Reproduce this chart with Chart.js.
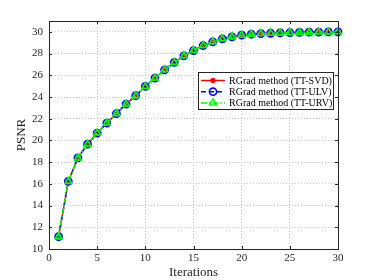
<!DOCTYPE html>
<html lang="en">
<head>
    <meta charset="UTF-8">
    <title>PSNR vs Iterations</title>
    <style>
        body {
            margin: 0;
            background: white;
        }
        .wrap {
            width: 373px;
            height: 280px;
        }
    </style>
    <script src="https://cdn.jsdelivr.net/npm/chart.js"></script>
</head>
<body>
    <div class="wrap">
        <canvas id="psnrChart" width="373" height="280"></canvas>
    </div>
    <script>
        const iterations = [1, 2, 3, 4, 5, 6, 7, 8, 9, 10, 11, 12, 13, 14, 15,
            16, 17, 18, 19, 20, 21, 22, 23, 24, 25, 26, 27, 28, 29, 30];
        const psnrSvd = [11.13, 16.22, 18.39, 19.65, 20.68, 21.6, 22.47, 23.35, 24.12, 24.97,
            25.74, 26.5, 27.18, 27.79, 28.28, 28.74, 29.08, 29.36, 29.54, 29.69,
            29.78, 29.84, 29.87, 29.9, 29.93, 29.95, 29.97, 29.98, 29.99, 30.0];
        const psnrUlv = [11.13, 16.22, 18.39, 19.65, 20.68, 21.6, 22.47, 23.35, 24.12, 24.97,
            25.74, 26.5, 27.18, 27.79, 28.28, 28.74, 29.08, 29.36, 29.54, 29.69,
            29.78, 29.84, 29.87, 29.9, 29.93, 29.95, 29.97, 29.98, 29.99, 30.0];
        const psnrUrv = [11.13, 16.22, 18.39, 19.65, 20.68, 21.6, 22.47, 23.35, 24.12, 24.97,
            25.74, 26.5, 27.18, 27.79, 28.28, 28.74, 29.08, 29.36, 29.54, 29.69,
            29.78, 29.84, 29.87, 29.9, 29.93, 29.95, 29.97, 29.98, 29.99, 30.0];
        const seriesNames = ['RGrad method (TT-SVD)', 'RGrad method (TT-ULV)', 'RGrad method (TT-URV)'];
        const xTicks = [0, 5, 10, 15, 20, 25, 30];
        const yTicks = [10, 12, 14, 16, 18, 20, 22, 24, 26, 28, 30];

        const serif = "'Liberation Serif', 'Times New Roman', serif";
        const toPoints = ys => iterations.map((x, i) => ({ x: x, y: ys[i] }));

        // box round the axes with inward ticks, like matlab
        const axesBox = {
            id: 'axesBox',
            afterDatasetsDraw(chart) {
                const { ctx, chartArea: a, scales } = chart;
                ctx.save();
                ctx.strokeStyle = '#262626';
                ctx.lineWidth = 1;
                ctx.beginPath();
                xTicks.forEach(v => {
                    const px = Math.round(scales.x.getPixelForValue(v)) + 0.5;
                    ctx.moveTo(px, a.bottom); ctx.lineTo(px, a.bottom - 3);
                    ctx.moveTo(px, a.top); ctx.lineTo(px, a.top + 3);
                });
                yTicks.forEach(v => {
                    const py = Math.round(scales.y.getPixelForValue(v)) + 0.5;
                    ctx.moveTo(a.left, py); ctx.lineTo(a.left + 3, py);
                    ctx.moveTo(a.right, py); ctx.lineTo(a.right - 3, py);
                });
                ctx.stroke();
                ctx.strokeRect(Math.round(a.left) + 0.5, Math.round(a.top) + 0.5,
                    Math.round(a.right - a.left), Math.round(a.bottom - a.top));
                ctx.restore();
            }
        };

        // legend box drawn inside the axes (line sample + marker + label)
        const boxLegend = {
            id: 'boxLegend',
            afterDraw(chart) {
                const ctx = chart.ctx;
                const x0 = 198, y0 = 72, w = 135, h = 37, rowH = 11.2;
                ctx.save();
                ctx.fillStyle = 'white';
                ctx.fillRect(x0, y0, w, h);
                ctx.strokeStyle = '#262626';
                ctx.lineWidth = 1;
                ctx.strokeRect(x0 + 0.5, y0 + 0.5, w, h);
                seriesNames.forEach((name, i) => {
                    const ds = chart.data.datasets[i];
                    const cy = y0 + 8.5 + i * rowH;
                    ctx.strokeStyle = ds.borderColor;
                    ctx.lineWidth = ds.borderWidth;
                    ctx.setLineDash(ds.borderDash || []);
                    ctx.beginPath();
                    ctx.moveTo(x0 + 3, cy);
                    ctx.lineTo(x0 + 27, cy);
                    ctx.stroke();
                    ctx.setLineDash([]);
                    ctx.fillStyle = ds.pointBackgroundColor;
                    ctx.strokeStyle = ds.pointBorderColor;
                    ctx.lineWidth = ds.pointBorderWidth;
                    Chart.helpers.drawPoint(ctx, {
                        pointStyle: ds.pointStyle,
                        radius: ds.pointRadius,
                        borderWidth: ds.pointBorderWidth,
                        rotation: 0
                    }, x0 + 15, cy);
                    ctx.fillStyle = '#000';
                    ctx.font = '10px ' + serif;
                    ctx.textBaseline = 'middle';
                    ctx.fillText(name, x0 + 31, cy + 0.5);
                });
                ctx.restore();
            }
        };

        new Chart(document.getElementById('psnrChart'), {
            type: 'line',
            data: {
                datasets: [
                    {
                        label: seriesNames[0],
                        data: toPoints(psnrSvd),
                        order: 2,
                        borderColor: '#ff0000',
                        backgroundColor: '#ff0000',
                        borderWidth: 1.5,
                        pointStyle: 'circle',
                        pointRadius: 2.3,
                        pointBorderWidth: 1,
                        pointBackgroundColor: '#ff0000',
                        pointBorderColor: '#ff0000'
                    },
                    {
                        label: seriesNames[1],
                        data: toPoints(psnrUlv),
                        order: 1,
                        borderColor: '#0000ff',
                        backgroundColor: 'rgba(0,0,0,0)',
                        borderWidth: 1.5,
                        borderDash: [5, 3],
                        pointStyle: 'circle',
                        pointRadius: 3.6,
                        pointBorderWidth: 1.6,
                        pointBackgroundColor: 'rgba(0,0,0,0)',
                        pointBorderColor: '#0000ff'
                    },
                    {
                        label: seriesNames[2],
                        data: toPoints(psnrUrv),
                        order: 0,
                        borderColor: '#00ff00',
                        backgroundColor: 'rgba(0,0,0,0)',
                        borderWidth: 1.5,
                        borderDash: [6, 2, 1.5, 2],
                        pointStyle: 'triangle',
                        pointRadius: 4,
                        pointBorderWidth: 1.5,
                        pointBackgroundColor: 'rgba(0,0,0,0)',
                        pointBorderColor: '#00ff00'
                    }
                ]
            },
            options: {
                responsive: false,
                animation: false,
                clip: false,
                layout: { padding: { top: 21, right: 35, left: 14, bottom: 0 } },
                plugins: {
                    legend: { display: false },
                    tooltip: { enabled: false }
                },
                elements: { line: { tension: 0 } },
                scales: {
                    x: {
                        type: 'linear',
                        min: 0,
                        max: 30,
                        afterBuildTicks: s => { s.ticks = xTicks.map(v => ({ value: v })); },
                        afterFit: s => { s.height = 31; },
                        border: { display: false, dash: [1, 2] },
                        grid: {
                            color: '#c8c8c8',
                            lineWidth: 1,
                            drawTicks: false
                        },
                        ticks: {
                            padding: 3,
                            maxRotation: 0,
                            color: '#262626',
                            font: { family: serif, size: 11 }
                        },
                        title: {
                            display: true,
                            text: 'Iterations',
                            color: '#262626',
                            padding: { top: 0, bottom: 0 },
                            font: { family: serif, size: 13 }
                        }
                    },
                    y: {
                        type: 'linear',
                        min: 10,
                        max: 31,
                        afterBuildTicks: s => { s.ticks = yTicks.map(v => ({ value: v })); },
                        afterFit: s => { s.width = 35; },
                        border: { display: false, dash: [1, 2] },
                        grid: {
                            color: '#c8c8c8',
                            lineWidth: 1,
                            drawTicks: false
                        },
                        ticks: {
                            padding: 6,
                            color: '#262626',
                            font: { family: serif, size: 11 }
                        },
                        title: {
                            display: true,
                            text: 'PSNR',
                            color: '#262626',
                            padding: { top: 0, bottom: 0 },
                            font: { family: serif, size: 13 }
                        }
                    }
                }
            },
            plugins: [axesBox, boxLegend]
        });
    </script>
</body>
</html>
